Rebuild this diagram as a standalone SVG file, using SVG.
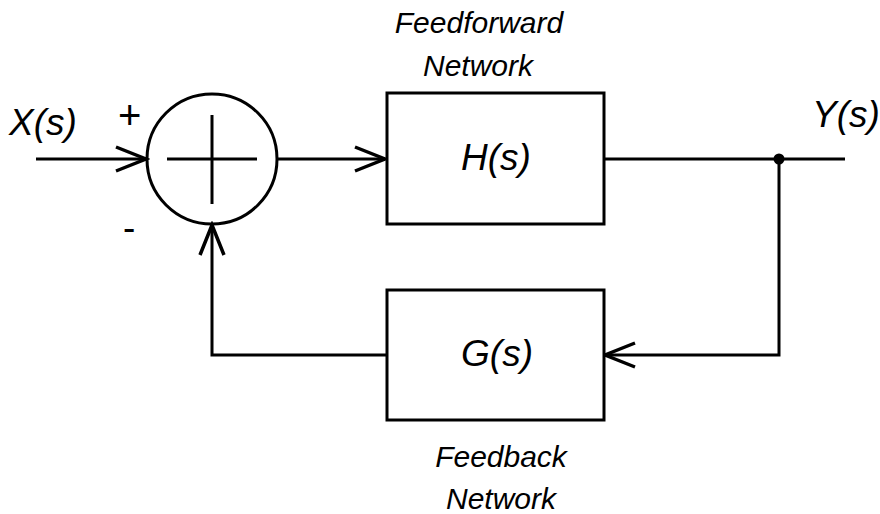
<svg xmlns="http://www.w3.org/2000/svg" width="880" height="514" viewBox="0 0 880 514">
  <style>
    .ln { fill: none; stroke: #000; stroke-width: 3; stroke-linecap: butt; stroke-linejoin: miter; }
    .blk { fill: #fff; stroke: #000; stroke-width: 3; }
    .lbl { font-family: "Liberation Sans", Arial, sans-serif; font-style: italic; fill: #000; }
    .big { font-size: 37px; }
    .small { font-size: 30px; }
    .mid { text-anchor: middle; }
  </style>
  <defs>
    <marker id="arrow" viewBox="-32 -14 36 28" markerWidth="36" markerHeight="28" refX="0" refY="0" orient="auto" markerUnits="userSpaceOnUse">
      <path d="M -30 -12 L 0 0 L -30 12" fill="none" stroke="#000" stroke-width="3.5"/>
    </marker>
  </defs>
  <rect width="880" height="514" fill="#fff"/>

  <!-- signal lines -->
  <g id="connectors">
    <line class="ln" x1="36" y1="159" x2="146" y2="159" marker-end="url(#arrow)"/>
    <line class="ln" x1="277" y1="159" x2="385" y2="159" marker-end="url(#arrow)"/>
    <line class="ln" x1="604" y1="159" x2="845" y2="159"/>
    <polyline class="ln" points="779,159 779,355 605,355" marker-end="url(#arrow)"/>
    <polyline class="ln" points="386,355 212,355 212,225" marker-end="url(#arrow)"/>
    <circle cx="779" cy="159" r="5.5" fill="#000"/>
  </g>

  <!-- summing junction -->
  <g id="sum">
    <circle class="ln" cx="212" cy="159" r="65"/>
    <line class="ln" x1="167" y1="159" x2="257" y2="159"/>
    <line class="ln" x1="212" y1="115" x2="212" y2="204"/>
    <text class="lbl" x="118" y="129" style="font-style:normal;font-size:40px">+</text>
    <text class="lbl big" x="123" y="240" style="font-style:normal">-</text>
  </g>

  <!-- forward block -->
  <g id="H">
    <rect class="blk" x="387" y="93" width="217" height="131"/>
    <text class="lbl big mid" x="496" y="170">H(s)</text>
    <text class="lbl small mid" x="479" y="33">Feedforward</text>
    <text class="lbl small mid" x="478" y="76">Network</text>
  </g>

  <!-- feedback block -->
  <g id="G">
    <rect class="blk" x="387" y="290" width="217" height="130"/>
    <text class="lbl big mid" x="497" y="366">G(s)</text>
    <text class="lbl small mid" x="501" y="467">Feedback</text>
    <text class="lbl small mid" x="501" y="509">Network</text>
  </g>

  <!-- input and output -->
  <g id="X">
    <text class="lbl big" x="9" y="135">X(s)</text>
  </g>
  <g id="Y">
    <text class="lbl big" x="812" y="127">Y(s)</text>
  </g>
</svg>
